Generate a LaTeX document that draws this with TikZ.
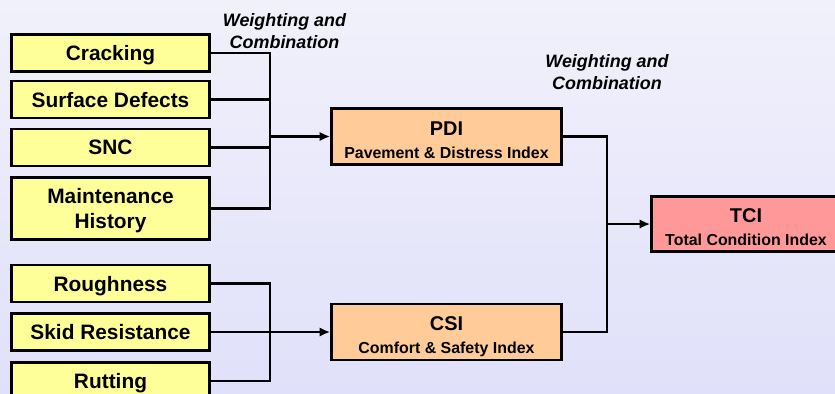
\documentclass[tikz,border=0pt]{standalone}
\usepackage{fontspec}
\setmainfont{Liberation Sans}
\usetikzlibrary{arrows, arrows.meta, shapes, positioning}
\definecolor{inputyellow}{HTML}{FFFF99}
\definecolor{indexorange}{HTML}{FFCC99}
\definecolor{totalred}{HTML}{FF9999}
\definecolor{bgtop}{HTML}{F1F1FB}
\definecolor{bgbottom}{HTML}{E0E0FA}
\newcommand{\subline}[1]{{\fontsize{15.1}{21.7}\selectfont #1}}
\newcommand{\titleline}[1]{\rule{0pt}{19.2pt}#1}
\tikzstyle{link} = [line width=2.4pt, line join=miter]
\tikzstyle{arrowlink} = [link, -{Latex[length=10pt, width=9pt]}]
\tikzstyle{input} = [draw=black, line width=2.6pt, fill=inputyellow, minimum width=6.6cm,
                     minimum height=1.233cm, inner sep=0, align=center, text depth=0pt,
                     font=\fontsize{19.8}{23.6}\selectfont\bfseries]
\tikzstyle{index} = [draw=black, line width=2.6pt, fill=indexorange, minimum width=7.667cm,
                     minimum height=1.867cm, inner sep=0, align=center, text depth=0pt,
                     font=\fontsize{18.9}{21.7}\selectfont\bfseries]
\tikzstyle{total} = [index, fill=totalred, minimum width=6.3cm, minimum height=1.833cm]
\tikzstyle{weight} = [align=center, font=\fontsize{17}{20.8}\selectfont\bfseries\itshape]

\begin{document}
\begin{tikzpicture}
				\useasboundingbox (0, 0) rectangle (27.833, -13.1);
				\fill [top color=bgtop, bottom color=bgbottom] (0, 0) rectangle (27.833, -13.1);

				% distress inputs
				\node (Cracking) [input] at (3.683, -1.767) {Cracking};
				\node (Surface) [input] at (3.683, -3.317) {Surface Defects};
				\node (SNC) [input] at (3.683, -4.917) {SNC};
				\node (Maint) [input, minimum height=2.067cm] at (3.683, -6.95) {Maintenance\\History};

				% comfort and safety inputs
				\node (Rough) [input] at (3.683, -9.45) {Roughness};
				\node (Skid) [input] at (3.683, -11.067) {Skid Resistance};
				\node (Rut) [input] at (3.683, -12.7) {Rutting};

				% indices
				\node (PDI) [index] at (14.883, -4.55) {\titleline{PDI}\\\subline{Pavement \& Distress Index}};
				\node (CSI) [index] at (14.883, -11.067) {\titleline{CSI}\\\subline{Comfort \& Safety Index}};
				\node (TCI) [total] at (24.867, -7.467) {\titleline{TCI}\\\subline{Total Condition Index}};

				\node (WeightA) [weight] at (9.483, -1.03) {Weighting and\\Combination};
				\node (WeightB) [weight] at (20.233, -2.4) {Weighting and\\Combination};

				% first combination
				\coordinate (CrackingBus) at (9, -1.767);
				\coordinate (SurfaceBus) at (9, -3.317);
				\coordinate (SNCBus) at (9, -4.917);
				\coordinate (MaintBus) at (9, -6.95);
				\coordinate (PDIIn) at (9, -4.55);
				\draw [link] (Cracking) -- (CrackingBus) -- (MaintBus) -- (Maint);
				\draw [link] (Surface) -- (SurfaceBus);
				\draw [link] (SNC) -- (SNCBus);
				\draw [arrowlink] (PDIIn) -- (PDI);

				% second combination
				\coordinate (RoughBus) at (9, -9.45);
				\coordinate (RutBus) at (9, -12.7);
				\draw [link] (Rough) -- (RoughBus) -- (RutBus) -- (Rut);
				\draw [arrowlink] (Skid) -- (CSI);

				% total index
				\coordinate (PDIOut) at (20.233, -4.55);
				\coordinate (CSIOut) at (20.233, -11.067);
				\coordinate (TCIIn) at (20.233, -7.467);
				\draw [link] (PDI) -- (PDIOut) -- (CSIOut) -- (CSI);
				\draw [arrowlink] (TCIIn) -- (TCI);
			\end{tikzpicture}
\end{document}
